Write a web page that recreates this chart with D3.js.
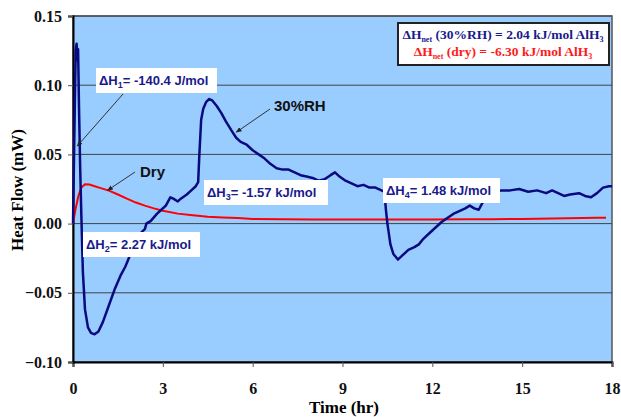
<html>
<meta charset="utf-8">
<style>
  body { margin: 0; background: #fff; }
  .tick text { font-family: "Liberation Serif", "Times New Roman", serif; font-weight: bold; font-size: 16px; fill: #111; }
  .lbl { font-family: "Liberation Sans", Arial, sans-serif; font-weight: bold; font-size: 13px; fill: #1a1a8c; }
</style>
<body>
<script src="https://d3js.org/d3.v7.min.js"></script>
<script>
// 30%RH heat flow (hr, mW)
var rhTime = [0, 0.05, 0.09, 0.12, 0.15, 0.17, 0.2, 0.24, 0.28, 0.33, 0.4, 0.5, 0.6, 0.72, 0.85, 1.0, 1.2, 1.4, 1.6, 1.75, 1.9, 2.1, 2.3, 2.4, 2.45, 2.6, 2.8, 2.95, 3.1, 3.25, 3.35, 3.5, 3.6, 3.8, 3.95, 4.1, 4.18, 4.22, 4.28, 4.35, 4.45, 4.55, 4.65, 4.8, 4.95, 5.1, 5.3, 5.45, 5.6, 5.8, 6.0, 6.2, 6.4, 6.6, 6.8, 7.0, 7.2, 7.4, 7.6, 7.8, 8.0, 8.2, 8.4, 8.6, 8.75, 8.9, 9.1, 9.3, 9.5, 9.7, 9.9, 10.1, 10.3, 10.4, 10.45, 10.5, 10.6, 10.7, 10.85, 11.0, 11.2, 11.4, 11.55, 11.7, 11.9, 12.1, 12.3, 12.5, 12.7, 12.9, 13.1, 13.25, 13.4, 13.55, 13.7, 13.85, 14.0, 14.3, 14.6, 14.9, 15.2, 15.5, 15.8, 16.0, 16.2, 16.4, 16.6, 16.9, 17.1, 17.3, 17.5, 17.7, 17.9, 18.0];
var rhFlow = [0, 0.07, 0.125, 0.13, 0.118, 0.126, 0.085, 0.04, 0.005, -0.035, -0.062, -0.075, -0.079, -0.08, -0.078, -0.071, -0.059, -0.047, -0.037, -0.031, -0.023, -0.013, -0.006, -0.004, 0.0, 0.002, 0.007, 0.01, 0.013, 0.019, 0.018, 0.016, 0.018, 0.021, 0.024, 0.027, 0.03, 0.05, 0.075, 0.083, 0.088, 0.09, 0.089, 0.085, 0.08, 0.074, 0.067, 0.062, 0.059, 0.057, 0.053, 0.05, 0.047, 0.043, 0.04, 0.039, 0.039, 0.037, 0.035, 0.034, 0.033, 0.031, 0.032, 0.035, 0.037, 0.034, 0.031, 0.029, 0.027, 0.028, 0.026, 0.026, 0.024, 0.023, 0.01, 0.0, -0.015, -0.022, -0.026, -0.023, -0.019, -0.017, -0.015, -0.011, -0.007, -0.003, 0.001, 0.004, 0.007, 0.009, 0.011, 0.013, 0.011, 0.01, 0.016, 0.02, 0.022, 0.024, 0.024, 0.025, 0.023, 0.024, 0.022, 0.024, 0.022, 0.02, 0.021, 0.022, 0.02, 0.019, 0.022, 0.026, 0.027, 0.027];

// dry heat flow
var dryTime = [0, 0.08, 0.18, 0.28, 0.4, 0.55, 0.7, 0.9, 1.2, 1.5, 1.8, 2.1, 2.4, 2.7, 3.0, 3.5, 4.0, 4.5, 5.0, 5.5, 6.0, 7, 8, 9, 10, 11, 12, 13, 14, 15, 16, 17, 17.5, 17.8];
var dryFlow = [0, 0.01, 0.02, 0.026, 0.0284, 0.0283, 0.0272, 0.0258, 0.0238, 0.021, 0.018, 0.0152, 0.013, 0.011, 0.0093, 0.0072, 0.006, 0.005, 0.0044, 0.004, 0.0034, 0.0031, 0.003, 0.0029, 0.003, 0.003, 0.003, 0.0031, 0.0032, 0.0034, 0.0036, 0.004, 0.0043, 0.0042];

var xTicks = [0, 3, 6, 9, 12, 15, 18];
var yTicks = [-0.10, -0.05, 0.00, 0.05, 0.10, 0.15];

var margin = {top: 16, right: 9, bottom: 55, left: 73};
var width = 621 - margin.left - margin.right;
var height = 417 - margin.top - margin.bottom;

var x = d3.scaleLinear().domain([0, 18]).range([0, width]);
var y = d3.scaleLinear().domain([-0.10, 0.15]).range([height, 0]);

var svg = d3.select("body").append("svg")
    .attr("width", 621)
    .attr("height", 417);

var defs = svg.append("defs");
defs.append("marker")
    .attr("id", "arr")
    .attr("viewBox", "0 0 10 10")
    .attr("refX", 9).attr("refY", 5)
    .attr("markerWidth", 6).attr("markerHeight", 6)
    .attr("orient", "auto")
  .append("path")
    .attr("d", "M0,1 L10,5 L0,9 Z")
    .attr("fill", "#222");

var g = svg.append("g")
    .attr("transform", "translate(" + margin.left + "," + margin.top + ")");

// plot area
g.append("rect")
    .attr("width", width).attr("height", height)
    .attr("fill", "#99ccff")
    .attr("stroke", "#555").attr("stroke-width", 1.5);

// gridlines
g.selectAll(".grid").data(yTicks).enter()
  .append("line")
    .attr("x1", 0).attr("x2", width)
    .attr("y1", function(d) { return y(d); })
    .attr("y2", function(d) { return y(d); })
    .attr("stroke", "#444").attr("stroke-width", 1);

// axes
g.append("g")
    .attr("transform", "translate(0," + height + ")")
    .call(d3.axisBottom(x).tickValues(xTicks).tickSize(5).tickPadding(16).tickFormat(d3.format("d")))
    .call(function(a) { a.select(".domain").attr("stroke", "#000").attr("stroke-width", 2); a.selectAll(".tick line").attr("stroke", "#555"); });

g.append("g")
    .call(d3.axisLeft(y).tickValues(yTicks).tickSize(5).tickPadding(6).tickFormat(d3.format(".2f")))
    .call(function(a) { a.select(".domain").attr("stroke", "#000").attr("stroke-width", 2); a.selectAll(".tick line").attr("stroke", "#555"); });

// axis titles
svg.append("text")
    .attr("x", 344).attr("y", 413)
    .attr("text-anchor", "middle")
    .style("font-family", "Liberation Serif, serif").style("font-weight", "bold").style("font-size", "17px")
    .text("Time (hr)");

svg.append("text")
    .attr("transform", "translate(23,190) rotate(-90)")
    .attr("text-anchor", "middle")
    .style("font-family", "Liberation Serif, serif").style("font-weight", "bold").style("font-size", "17px")
    .text("Heat Flow (mW)");

// curves
var line = d3.line()
    .x(function(d) { return x(d[0]); })
    .y(function(d) { return y(d[1]); });

g.append("path")
    .datum(dryTime.map(function(t, i) { return [t, dryFlow[i]]; }))
    .attr("d", line)
    .attr("fill", "none").attr("stroke", "#ff0000").attr("stroke-width", 2);

g.append("path")
    .datum(rhTime.map(function(t, i) { return [t, rhFlow[i]]; }))
    .attr("d", line)
    .attr("fill", "none").attr("stroke", "#0a0a80").attr("stroke-width", 2.5)
    .attr("stroke-linejoin", "round");

// arrows (data points they point to)
function arrow(x1, y1, t, v) {
  g.append("line")
      .attr("x1", x1).attr("y1", y1)
      .attr("x2", x(t)).attr("y2", y(v))
      .attr("stroke", "#333").attr("stroke-width", 1)
      .attr("marker-end", "url(#arr)");
}
arrow(50, 78, 0.14, 0.056);
arrow(62, 156, 1.15, 0.024);
arrow(197, 93, 5.45, 0.066);

// white-boxed labels with subscript
function dhLabel(bx, by, bw, sub, rest) {
  var lg = g.append("g");
  lg.append("rect")
      .attr("x", bx).attr("y", by).attr("width", bw).attr("height", 25)
      .attr("fill", "#fff");
  var t = lg.append("text").attr("class", "lbl")
      .attr("x", bx + 3).attr("y", by + 17);
  t.append("tspan").text("\u0394H");
  t.append("tspan").attr("dy", 3).style("font-size", "9px").text(sub);
  t.append("tspan").attr("dy", -3).text(rest);
}
dhLabel(23, 52, 121, "1", "= -140.4 J/mol");
dhLabel(10, 216, 117, "2", "= 2.27 kJ/mol");
dhLabel(131, 164, 124, "3", "= -1.57 kJ/mol");
dhLabel(310, 162, 117, "4", "= 1.48 kJ/mol");

// plain labels
g.append("text").attr("x", 67).attr("y", 161)
    .style("font-family", "Liberation Sans, Arial, sans-serif").style("font-weight", "bold").style("font-size", "15px")
    .attr("fill", "#111").text("Dry");
g.append("text").attr("x", 201).attr("y", 95)
    .style("font-family", "Liberation Sans, Arial, sans-serif").style("font-weight", "bold").style("font-size", "15px")
    .attr("fill", "#111").text("30%RH");

// net enthalpy box
var nb = g.append("g");
nb.append("rect")
    .attr("x", 325).attr("y", 7).attr("width", 211).attr("height", 42)
    .attr("fill", "#fff").attr("stroke", "#222").attr("stroke-width", 2);
function netLine(yy, col, cond, val) {
  var t = nb.append("text")
      .attr("x", 430).attr("y", yy).attr("text-anchor", "middle")
      .style("font-family", "Liberation Serif, serif").style("font-weight", "bold").style("font-size", "13.5px")
      .attr("fill", col);
  t.append("tspan").text("\u0394H");
  t.append("tspan").attr("dy", 3).style("font-size", "8px").text("net");
  t.append("tspan").attr("dy", -3).text(" " + cond + " = " + val + " kJ/mol AlH");
  t.append("tspan").attr("dy", 3).style("font-size", "8px").text("3");
}
netLine(23, "#1a1a8c", "(30%RH)", "2.04");
netLine(40, "#ff1a1a", "(dry)", "-6.30");
</script>
</body>
</html>
